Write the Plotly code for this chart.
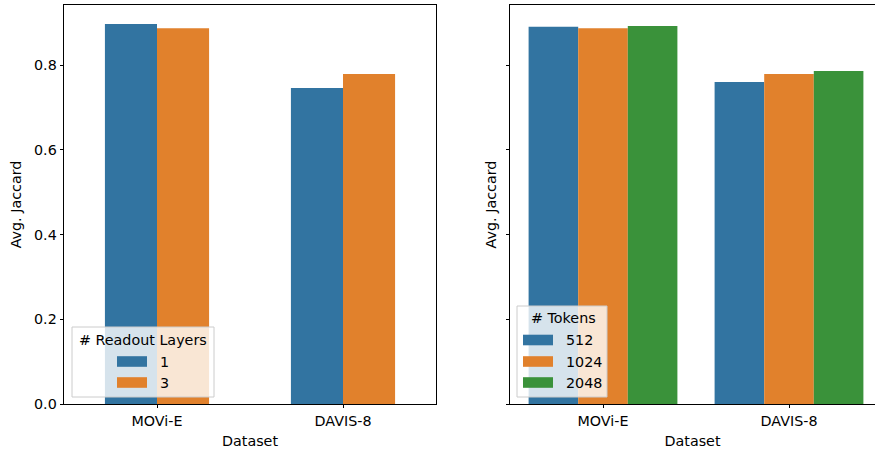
import plotly.graph_objects as go

# ---- data ----
datasets = ["MOVi-E", "DAVIS-8"]
readout_layers = ["1", "3"]
readout_values = {
    "1": [0.897, 0.746],
    "3": [0.887, 0.779],
}
tokens = ["512", "1024", "2048"]
token_values = {
    "512": [0.890, 0.760],
    "1024": [0.887, 0.779],
    "2048": [0.892, 0.786],
}
y_ticks = [0.0, 0.2, 0.4, 0.6, 0.8]

colors = ["#3274a1", "#e1812c", "#3a923a"]
W, H = 875, 449
FONT = "DejaVu Sans"
FS = 14.3


def px(x):
    return x / W


def py(y):
    return 1 - y / H


fig = go.Figure()

# left subplot bars
lw = 0.28
for i, k in enumerate(readout_layers):
    fig.add_trace(go.Bar(
        x=datasets, y=readout_values[k], name=k,
        marker=dict(color=colors[i], line=dict(width=0)),
        width=lw, offset=-lw + i * lw,
        xaxis="x", yaxis="y", showlegend=False,
    ))

# right subplot bars
rw = 0.8 / 3
for i, k in enumerate(tokens):
    fig.add_trace(go.Bar(
        x=datasets, y=token_values[k], name=k,
        marker=dict(color=colors[i], line=dict(width=0)),
        width=rw, offset=-0.4 + i * rw,
        xaxis="x2", yaxis="y2", showlegend=False,
    ))

ytop = 0.9416
ydom = [py(404), py(5)]

axis_common = dict(
    showgrid=False, zeroline=False, showline=True, linecolor="black", linewidth=0.8,
    ticks="outside", ticklen=3.5, tickwidth=0.8, tickcolor="black",
    tickfont=dict(family=FONT, size=FS, color="black"),
)

fig.update_layout(
    width=W, height=H,
    margin=dict(l=0, r=0, t=0, b=0),
    paper_bgcolor="white", plot_bgcolor="white",
    barmode="overlay",
    font=dict(family=FONT, size=FS, color="black"),
    xaxis=dict(domain=[px(64), px(436)], range=[-0.5, 1.5], mirror=True,
               anchor="y", automargin=False,
               title=dict(text="Dataset", font=dict(family=FONT, size=FS), standoff=8),
               **axis_common),
    yaxis=dict(domain=ydom, range=[0, ytop], mirror=True, anchor="x",
               tickvals=y_ticks, tickformat=".1f", automargin=False,
               title=dict(text="Avg. Jaccard", font=dict(family=FONT, size=FS), standoff=8),
               **axis_common),
    xaxis2=dict(domain=[px(510), 1], range=[-0.5, -0.5 + 365 / 186], mirror=True,
                anchor="y2", automargin=False,
                title=dict(text="Dataset", font=dict(family=FONT, size=FS), standoff=8),
                **axis_common),
    yaxis2=dict(domain=ydom, range=[0, ytop], mirror=False, anchor="x2",
                tickvals=y_ticks, showticklabels=False, automargin=False,
                title=dict(text="Avg. Jaccard", font=dict(family=FONT, size=FS), standoff=5),
                **axis_common),
)

shapes = []
annots = []


def add_legend(box, title, title_xy, labels, sw_x, rows, label_x):
    x0, y0, x1, y1 = box
    shapes.append(dict(type="rect", xref="paper", yref="paper",
                       x0=px(x0), x1=px(x1), y0=py(y1), y1=py(y0),
                       fillcolor="rgba(255,255,255,0.8)",
                       line=dict(color="#cccccc", width=1), layer="above"))
    annots.append(dict(text=title, xref="paper", yref="paper",
                       x=px(title_xy[0]), y=py(title_xy[1]), showarrow=False,
                       xanchor="center", yanchor="middle",
                       font=dict(family=FONT, size=FS, color="black")))
    for i, (lab, yc) in enumerate(zip(labels, rows)):
        shapes.append(dict(type="rect", xref="paper", yref="paper",
                           x0=px(sw_x[0]), x1=px(sw_x[1]),
                           y0=py(yc + 5.3), y1=py(yc - 5.3),
                           fillcolor=colors[i], line=dict(width=0), layer="above"))
        annots.append(dict(text=lab, xref="paper", yref="paper",
                           x=px(label_x), y=py(yc), showarrow=False,
                           xanchor="left", yanchor="middle",
                           font=dict(family=FONT, size=FS, color="black")))


add_legend((72, 327, 214, 397), "# Readout Layers", (143, 340),
           readout_layers, (117, 147), [361.5, 382.5], 158)
add_legend((517, 306, 607, 397), "# Tokens", (563, 318),
           tokens, (523, 553), [340, 361.5, 382.5], 564)

fig.update_layout(shapes=shapes, annotations=annots)

fig.write_html(
    "out.html",
    config={"displayModeBar": False},
    post_script="document.body.style.margin='0';document.body.style.overflow='hidden';",
)
